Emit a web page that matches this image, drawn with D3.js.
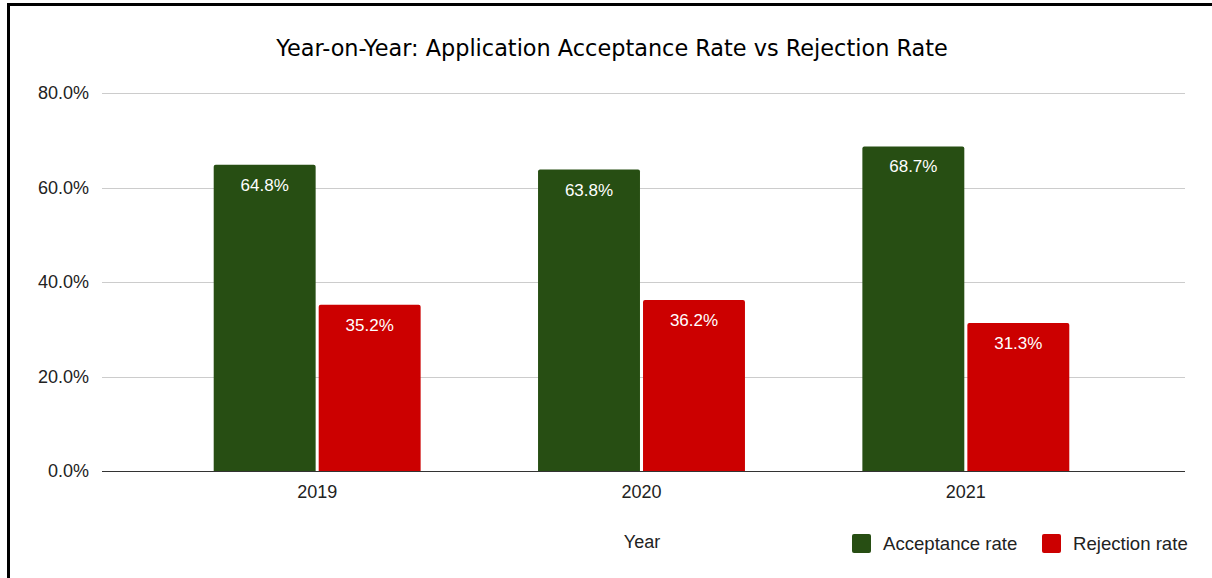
<!DOCTYPE html>
<html>
  <head lang="en">
    <meta charset="utf-8">
    <title>Acceptance vs Rejection</title>
    <script src="https://cdn.jsdelivr.net/npm/d3@7"></script>
    <style>
      body { margin: 0; background: #fff; }
      text { font-family: "Liberation Sans", Arial, sans-serif; }
    </style>
  </head>
  <body>
    <script>
      // chart data
      var years = ["2019", "2020", "2021"];
      var seriesNames = ["Acceptance rate", "Rejection rate"];
      var acceptance = [64.8, 63.8, 68.7];
      var rejection = [35.2, 36.2, 31.3];
      var yTicks = [0, 20, 40, 60, 80];
      var colors = ["#274e13", "#cc0000"];

      var width = 1212, height = 578;

      var svg = d3.select("body").append("svg")
        .attr("width", width)
        .attr("height", height);

      // border on left and top
      svg.append("path")
        .attr("d", "M8.5,578 L8.5,4.5 L1212,4.5")
        .attr("fill", "none")
        .attr("stroke", "#000")
        .attr("stroke-width", 3);

      // title
      svg.append("text")
        .attr("x", 612)
        .attr("y", 56)
        .attr("text-anchor", "middle")
        .style("font-family", "'DejaVu Sans', Verdana, sans-serif")
        .style("font-size", "22.4px")
        .attr("fill", "#000")
        .text("Year-on-Year: Application Acceptance Rate vs Rejection Rate");

      // scales
      var y = d3.scaleLinear().domain([0, 80]).range([471, 93]);
      var x0 = d3.scaleBand().domain(years).range([155, 1128])
        .paddingInner(0.362).paddingOuter(0.181);
      var x1 = d3.scaleBand().domain(seriesNames).range([0, x0.bandwidth()])
        .paddingInner(0.029);

      // gridlines
      svg.append("g")
        .selectAll("line")
        .data(yTicks.filter(function(d) { return d > 0; }))
        .enter().append("line")
        .attr("x1", 102).attr("x2", 1185)
        .attr("y1", function(d) { return Math.round(y(d)) + 0.5; })
        .attr("y2", function(d) { return Math.round(y(d)) + 0.5; })
        .attr("stroke", "#cccccc")
        .attr("stroke-width", 1);

      // y axis labels
      var yAxis = svg.append("g")
        .attr("transform", "translate(102,0)")
        .call(d3.axisLeft(y).tickValues(yTicks).tickSize(0).tickPadding(13)
          .tickFormat(function(d) { return d.toFixed(1) + "%"; }));
      yAxis.select(".domain").remove();
      yAxis.selectAll("text")
        .style("font-size", "18px")
        .style("font-family", "'Liberation Sans', Arial, sans-serif")
        .attr("fill", "#222");

      // bars
      var data = years.map(function(yr, i) {
        return { year: yr, values: [acceptance[i], rejection[i]] };
      });

      var groups = svg.append("g")
        .selectAll("g")
        .data(data)
        .enter().append("g")
        .attr("transform", function(d) { return "translate(" + x0(d.year) + ",0)"; });

      function topRounded(x, yTop, w, h, r) {
        return "M" + x + "," + (yTop + h) +
          " L" + x + "," + (yTop + r) +
          " Q" + x + "," + yTop + " " + (x + r) + "," + yTop +
          " L" + (x + w - r) + "," + yTop +
          " Q" + (x + w) + "," + yTop + " " + (x + w) + "," + (yTop + r) +
          " L" + (x + w) + "," + (yTop + h) + " Z";
      }

      groups.selectAll("path")
        .data(function(d) { return d.values; })
        .enter().append("path")
        .attr("d", function(v, i) {
          return topRounded(x1(seriesNames[i]), y(v), x1.bandwidth(), y(0) - y(v), 2);
        })
        .attr("fill", function(v, i) { return colors[i]; });

      groups.selectAll("text")
        .data(function(d) { return d.values; })
        .enter().append("text")
        .attr("x", function(v, i) { return x1(seriesNames[i]) + x1.bandwidth() / 2; })
        .attr("y", function(v) { return y(v) + 26; })
        .attr("text-anchor", "middle")
        .style("font-size", "17px")
        .attr("fill", "#fff")
        .text(function(v) { return v.toFixed(1) + "%"; });

      // x axis
      var xAxis = svg.append("g")
        .attr("transform", "translate(0,471)")
        .call(d3.axisBottom(x0).tickSize(0).tickPadding(14));
      xAxis.select(".domain")
        .attr("d", "M102,0.5H1185")
        .attr("stroke", "#333");
      xAxis.selectAll("text")
        .style("font-size", "18px")
        .style("font-family", "'Liberation Sans', Arial, sans-serif")
        .attr("fill", "#222");

      // x axis title
      svg.append("text")
        .attr("x", 642)
        .attr("y", 548)
        .attr("text-anchor", "middle")
        .style("font-size", "18px")
        .attr("fill", "#222")
        .text("Year");

      // legend
      var legendX = [852, 1042];
      var legend = svg.append("g")
        .selectAll("g")
        .data(seriesNames)
        .enter().append("g")
        .attr("transform", function(d, i) { return "translate(" + legendX[i] + ",534)"; });
      legend.append("rect")
        .attr("width", 19).attr("height", 19).attr("rx", 2)
        .attr("fill", function(d, i) { return colors[i]; });
      legend.append("text")
        .attr("x", 31)
        .attr("y", 16)
        .style("font-size", "18.6px")
        .attr("fill", "#222")
        .text(function(d) { return d; });
    </script>
  </body>
</html>
